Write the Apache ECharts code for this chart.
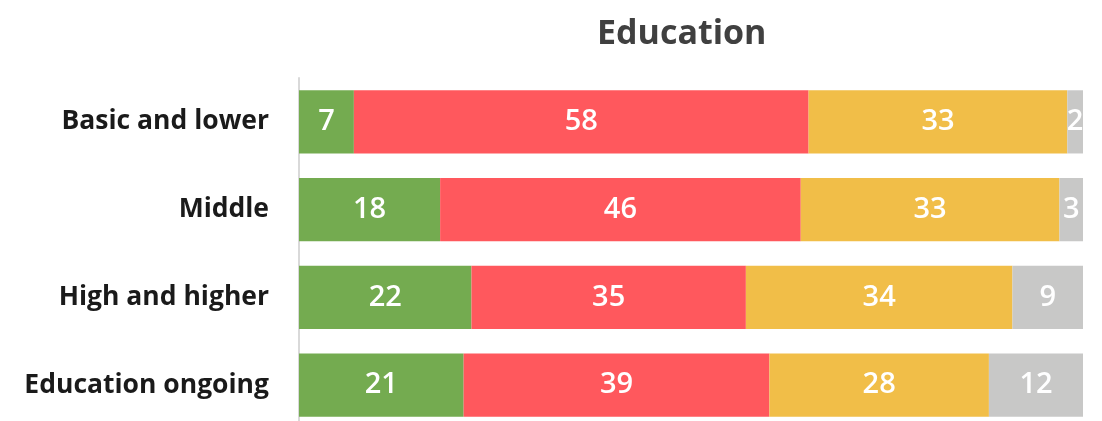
<!DOCTYPE html>
<html>
<head>
<meta charset="utf-8">
<style>
  html, body { margin: 0; padding: 0; background: #fff; }
  #chart { width: 1102px; height: 421px; }
</style>
<script src="https://cdn.jsdelivr.net/npm/echarts@6/dist/echarts.min.js"></script>
</head>
<body>
<div id="chart"></div>
<script>
const categories = ["Basic and lower", "Middle", "High and higher", "Education ongoing"];
const greenVals = [7, 18, 22, 21];
const redVals = [58, 46, 35, 39];
const yellowVals = [33, 33, 34, 28];
const greyVals = [2, 3, 9, 12];

const font = "Open Sans";

let chart = echarts.init(document.getElementById("chart"));

function makeSeries(name, data, color) {
  return {
    name: name,
    type: "bar",
    stack: "total",
    barCategoryGap: "28%",
    data: data,
    itemStyle: { color: color },
    label: {
      show: true,
      position: "inside",
      color: "#fff",
      fontFamily: font,
      fontWeight: 600,
      fontSize: 29,
    },
  };
}

var option = {
  animation: false,
  title: {
    text: "Education",
    left: 592,
    top: 12,
    textStyle: {
      fontFamily: font,
      fontWeight: "bold",
      fontSize: 34,
      color: "#404040",
    },
  },
  grid: {
    left: 299,
    right: 19,
    top: 78,
    height: 351,
    outerBoundsMode: "none",
    containLabel: false,
  },
  xAxis: {
    type: "value",
    min: 0,
    max: 100,
    show: false,
  },
  yAxis: {
    type: "category",
    inverse: true,
    data: categories,
    axisLine: { show: true, lineStyle: { color: "#d9d9d9", width: 2 } },
    axisTick: { show: false },
    axisLabel: {
      margin: 30,
      color: "#1a1a1a",
      fontFamily: font,
      fontWeight: "bold",
      fontSize: 26.5,
    },
  },
  series: [
    makeSeries("green", greenVals, "#74AB50"),
    makeSeries("red", redVals, "#FF585D"),
    makeSeries("yellow", yellowVals, "#F1BE48"),
    makeSeries("grey", greyVals, "#C8C8C7"),
  ],
};

chart.setOption(option);
</script>
</body>
</html>
